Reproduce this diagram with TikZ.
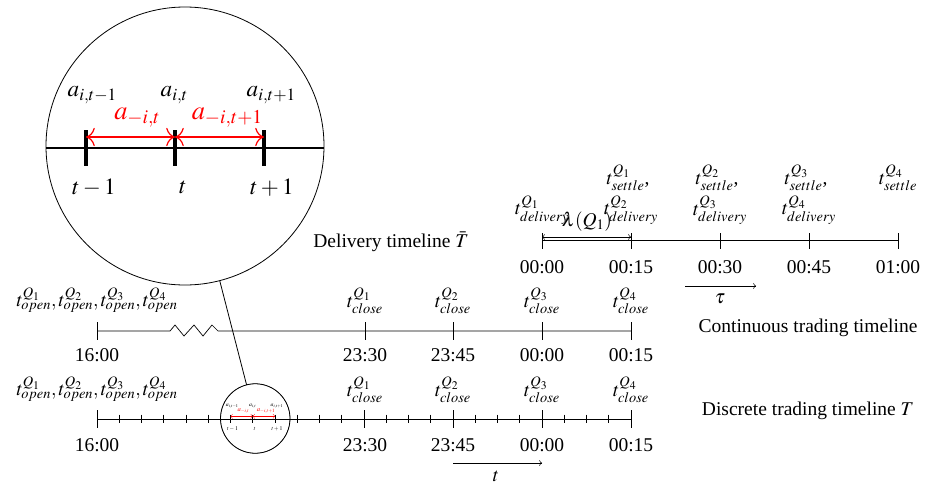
\documentclass[tikz,border=0pt]{standalone}
\usepackage{mathptmx}
\usepackage{fontspec}
\setmainfont{Liberation Serif}
\usetikzlibrary{spy,arrows.meta}
\begin{document}
\begin{tikzpicture}[x=1pt,y=-1pt,
  lbl/.style={font=\fontsize{19.5}{23}\selectfont, inner sep=0pt},
  tiny/.style={font=\fontsize{5.8}{7}\selectfont, inner sep=0pt},
  tinyred/.style={font=\fontsize{6.6}{8}\selectfont, inner sep=0pt, red},
  tl/.style={line width=0.7pt},
  redarr/.style={red, line width=0.3pt, {Computer Modern Rightarrow[length=2.2pt,width=4.6pt]}-{Computer Modern Rightarrow[length=2.2pt,width=4.6pt]}},
  thinarr/.style={line width=0.5pt},
  lensc/.style={circle, inner sep=0pt, outer sep=0pt},
]
\useasboundingbox (0,0) rectangle (942,490);

\begin{scope}[spy using outlines={circle, magnification=4, size=278pt, line width=0.9pt}]
% ---------------- Delivery timeline ----------------
\foreach \i/\x in {0/542,1/631,2/720,3/809,4/898}{
  \coordinate (d\i) at (\x,240);
}
\draw[tl] (d0) -- (d4);
\foreach \i in {0,...,4}{
  \draw[tl] ([yshift=7pt]d\i) -- ([yshift=-9pt]d\i);
}
\foreach \i/\x/\t in {0/542/00:00,1/631/00:15,2/720/00:30,3/809/00:45,4/898/01:00}{
  \node[lbl] (dt\i) at (\x,267) {\t};
}
\node[lbl] (dl1) at (542,210) {$t^{Q_1}_{delivery}$};
\node[lbl] (dl2) at (631,210) {$t^{Q_2}_{delivery}$};
\node[lbl] (dl3) at (720,210) {$t^{Q_3}_{delivery}$};
\node[lbl] (dl4) at (809,210) {$t^{Q_4}_{delivery}$};
\node[lbl] (st1) at (628,178) {$t^{Q_1}_{settle}$,};
\node[lbl] (st2) at (717,178) {$t^{Q_2}_{settle}$,};
\node[lbl] (st3) at (806,178) {$t^{Q_3}_{settle}$,};
\node[lbl] (st4) at (898,178) {$t^{Q_4}_{settle}$};
\draw[thinarr,<->] ([yshift=3pt]d0) -- ([yshift=3pt]d1);
\node[lbl] (lam) at (587,222) {$\lambda(Q_1)$};
\coordinate (tau0) at (685,286);
\coordinate (tau1) at (756,286);
\draw[thinarr,->] (tau0) -- (tau1);
\node[lbl] (tau) at (720,299) {$\tau$};
\node[lbl] (deliv) at (391,242) {Delivery timeline $\bar{T}$};

% ---------------- Continuous trading timeline ----------------
\foreach \i/\x in {0/97,1/365,2/453,3/542,4/631}{
  \coordinate (c\i) at (\x,331);
}
\coordinate (z0) at (170,331);
\coordinate (z1) at (218,331);
\draw[tl] (c0) -- (z0) -- (175,325) -- (184,336) -- (194,325) -- (203,336) -- (212,325) -- (z1) -- (c4);
\foreach \i in {0,...,4}{
  \draw[tl] ([yshift=9pt]c\i) -- ([yshift=-9pt]c\i);
}
\foreach \i/\x/\t in {0/97/16:00,1/365/23:30,2/453/23:45,3/542/00:00,4/631/00:15}{
  \node[lbl] (ct\i) at (\x,355) {\t};
  \node[lbl] (dtt\i) at (\x,445) {\t};
}
\node[lbl] (copen) at (97,300) {$t^{Q_1}_{open},t^{Q_2}_{open},t^{Q_3}_{open},t^{Q_4}_{open}$};
\node[lbl] (dopen) at (97,389) {$t^{Q_1}_{open},t^{Q_2}_{open},t^{Q_3}_{open},t^{Q_4}_{open}$};
\foreach \i/\x in {1/365,2/453,3/542,4/631}{
  \node[lbl] (cc\i) at (\x,301) {$t^{Q_\i}_{close}$};
  \node[lbl] (dc\i) at (\x,390) {$t^{Q_\i}_{close}$};
}
\node[lbl] (cont) at (808,328) {Continuous trading timeline};
\node[lbl] (disc) at (808,411) {Discrete trading timeline $T$};

% ---------------- Discrete trading timeline ----------------
\foreach \k in {0,...,24}{
  \pgfmathsetmacro{\xx}{97+22.25*\k}
  \coordinate (s\k) at (\xx,419);
}
\draw[tl] (s0) -- (s24);
\foreach \k in {0,12,16,20,24}{
  \draw[tl] ([yshift=9pt]s\k) -- ([yshift=-9pt]s\k);
}
\foreach \k in {1,2,3,4,5,9,10,11,13,14,15,17,18,19,21,22,23}{
  \draw[line width=0.6pt] ([yshift=4.4pt]s\k) -- ([yshift=-4.4pt]s\k);
}
\foreach \k in {6,7,8}{
  \draw[line width=0.9pt] ([yshift=4.4pt]s\k) -- ([yshift=-4.4pt]s\k);
}
\draw[redarr] ([yshift=2.75pt]s6) -- ([yshift=2.75pt]s7);
\draw[redarr] ([yshift=2.75pt]s7) -- ([yshift=2.75pt]s8);
\node[tiny] (a1) at (232.25,405.75) {$a_{i,t-1}$};
\node[tiny] (a2) at (252.75,405.75) {$a_{i,t}$};
\node[tiny] (a3) at (277,405.75) {$a_{i,t+1}$};
\node[tinyred] (r1) at (243.5,411.5) {$a_{-i,t}$};
\node[tinyred] (r2) at (266,411.5) {$a_{-i,t+1}$};
\node[tiny] (b1) at (232.5,429) {$t-1$};
\node[tiny] (b2) at (254.75,428.75) {$t$};
\node[tiny] (b3) at (277,429) {$t+1$};
\coordinate (tt0) at (453,463);
\coordinate (tt1) at (542,463);
\draw[thinarr,->] (tt0) -- (tt1);
\node[lbl] (tlab) at (496,476) {$t$};

\spy on (255.25,418.5) in node at (185,146);
\end{scope}

% ---------------- magnifier outline and connector ----------------
\node[lensc, draw, line width=0.8pt, minimum size=69.5pt] (smallc) at (255.25,418.5) {};
\node[lensc, minimum size=278pt] (bigc) at (185,146) {};
\draw[line width=0.8pt] (bigc) -- (smallc);
\end{tikzpicture}
\end{document}
